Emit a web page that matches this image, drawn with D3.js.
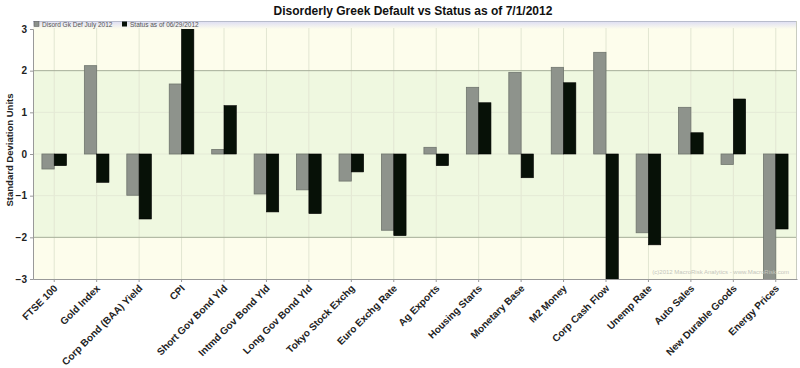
<!DOCTYPE html>
<html><head><meta charset="utf-8">
<script src="https://cdn.jsdelivr.net/npm/d3@7"></script>
<style>html,body{margin:0;padding:0;background:#fff;}svg{display:block;font-family:"Liberation Sans",Arial,sans-serif;}</style>
</head><body><svg id="c" width="800" height="368"></svg>
<script>
const categories = ["FTSE 100","Gold Index","Corp Bond (BAA) Yield","CPI","Short Gov Bond Yld","Intmd Gov Bond Yld","Long Gov Bond Yld","Tokyo Stock Exchg","Euro Exchg Rate","Ag Exports","Housing Starts","Monetary Base","M2 Money","Corp Cash Flow","Unemp Rate","Auto Sales","New Durable Goods","Energy Prices"];
const seriesNames = ["Disord Gk Def July 2012","Status as of 06/29/2012"];
const disordValues = [-0.36, 2.12, -0.99, 1.68, 0.11, -0.96, -0.86, -0.65, -1.83, 0.16, 1.60, 1.96, 2.08, 2.44, -1.89, 1.12, -0.25, -3.2];
const statusValues = [-0.28, -0.68, -1.56, 3.2, 1.16, -1.39, -1.43, -0.43, -1.96, -0.28, 1.23, -0.57, 1.71, -3.2, -2.18, 0.51, 1.32, -1.80];
const yTicks = [-3,-2,-1,0,1,2,3];

const svg = d3.select("#c");
const L = 33, R = 797, T = 21, B = 279;
const x = d3.scaleBand().domain(categories).range([L, R]).paddingInner(0).paddingOuter(0);
const y = d3.scaleLinear().domain([-3, 3]).range([B, 29]);
const bw = 12.3;

// title
svg.append("text").attr("x", 413).attr("y", 15).attr("text-anchor", "middle")
  .attr("font-size", 12).attr("font-weight", "bold").attr("fill", "#111")
  .text("Disorderly Greek Default vs Status as of 7/1/2012");

// backgrounds
const defs = svg.append("defs");
const lg = defs.append("linearGradient").attr("id","lg").attr("x1",0).attr("y1",0).attr("x2",0).attr("y2",1);
lg.append("stop").attr("offset","0%").attr("stop-color","#dcdcf4");
lg.append("stop").attr("offset","100%").attr("stop-color","#fdfdec");
defs.append("clipPath").attr("id","clip").append("rect").attr("x",L).attr("y",y(3)).attr("width",R-L).attr("height",B-y(3));

svg.append("rect").attr("x", L).attr("y", T).attr("width", R-L).attr("height", B-T).attr("fill", "#fdfdec");
svg.append("rect").attr("x", L).attr("y", T).attr("width", R-L).attr("height", 8).attr("fill", "url(#lg)");
svg.append("rect").attr("x", L).attr("y", y(2)).attr("width", R-L).attr("height", y(-2)-y(2)).attr("fill", "#eff8e0");

// vertical grid
svg.append("g").selectAll("line").data(categories).join("line")
  .attr("x1", d => x(d)+x.bandwidth()/2).attr("x2", d => x(d)+x.bandwidth()/2)
  .attr("y1", T+7).attr("y2", B).attr("stroke", "#e2e6d2").attr("stroke-width", 1);
// horizontal grid
svg.append("g").selectAll("line").data(yTicks.filter(v => v!==3 && v!==-3)).join("line")
  .attr("x1", L).attr("x2", R).attr("y1", d => y(d)).attr("y2", d => y(d))
  .attr("stroke", d => Math.abs(d)===2 ? "#a5ae98" : "#e4ead6").attr("stroke-width", 1);

// bars
const g = svg.append("g").attr("clip-path","url(#clip)");
categories.forEach((c, i) => {
  const cx = x(c) + x.bandwidth()/2;
  const v1 = disordValues[i], v2 = statusValues[i];
  g.append("rect").attr("x", cx - bw).attr("width", bw)
    .attr("y", y(Math.max(0, v1))).attr("height", Math.abs(y(v1)-y(0)))
    .attr("fill", "#8e938c").attr("stroke", "#6f756d").attr("stroke-width", 0.8);
  g.append("rect").attr("x", cx).attr("width", bw)
    .attr("y", y(Math.max(0, v2))).attr("height", Math.abs(y(v2)-y(0)))
    .attr("fill", "#071107").attr("stroke", "#000").attr("stroke-width", 0.6);
});

// border
svg.append("line").attr("x1",L).attr("x2",R).attr("y1",T+0.5).attr("y2",T+0.5).attr("stroke","#b8bccc");
svg.append("line").attr("x1",R-0.5).attr("x2",R-0.5).attr("y1",T).attr("y2",B).attr("stroke","#c8ccc0");

// legend
const leg = svg.append("g").attr("font-size", 6.5).attr("fill", "#555");
leg.append("rect").attr("x", 34).attr("y", 21.5).attr("width", 5).attr("height", 5).attr("fill", "#8c918a").attr("stroke","#555").attr("stroke-width",0.5);
leg.append("text").attr("x", 42).attr("y", 26.5).text(seriesNames[0]);
leg.append("rect").attr("x", 122).attr("y", 21.5).attr("width", 5).attr("height", 5).attr("fill", "#071107");
leg.append("text").attr("x", 130).attr("y", 26.5).text(seriesNames[1]);

// watermark
svg.append("text").attr("x", 789).attr("y", 274).attr("text-anchor","end").attr("font-size", 6).attr("fill","#c4c6bc")
  .text("(c)2012 MacroRisk Analytics - www.MacroRisk.com");

// y axis
const ya = svg.append("g").attr("transform", `translate(${L},0)`)
  .call(d3.axisLeft(y).tickValues(yTicks).tickSize(3).tickFormat(d3.format("d")));
ya.select(".domain").attr("stroke", "#999");
ya.selectAll(".tick line").attr("stroke", "#999");
ya.selectAll("text").attr("font-size", 10).attr("font-weight", "bold").attr("fill", "#222").attr("font-family","Liberation Sans, Arial, sans-serif");

// x axis
const xa = svg.append("g").attr("transform", `translate(0,${B})`)
  .call(d3.axisBottom(x).tickSize(3).tickSizeOuter(0));
xa.select(".domain").attr("stroke", "#999");
xa.selectAll(".tick line").attr("stroke", "#999");
xa.selectAll("text").attr("font-size", 10).attr("font-weight", "bold").attr("fill", "#222")
  .attr("font-family","Liberation Sans, Arial, sans-serif")
  .attr("text-anchor", "end").attr("dy", null).attr("y", 0)
  .attr("transform", "translate(4,10) rotate(-45)");

// y label
svg.append("text").attr("transform", "translate(13,150) rotate(-90)").attr("text-anchor","middle")
  .attr("font-size", 9.5).attr("font-weight","bold").attr("fill","#222").text("Standard Deviation Units");
</script></body></html>
